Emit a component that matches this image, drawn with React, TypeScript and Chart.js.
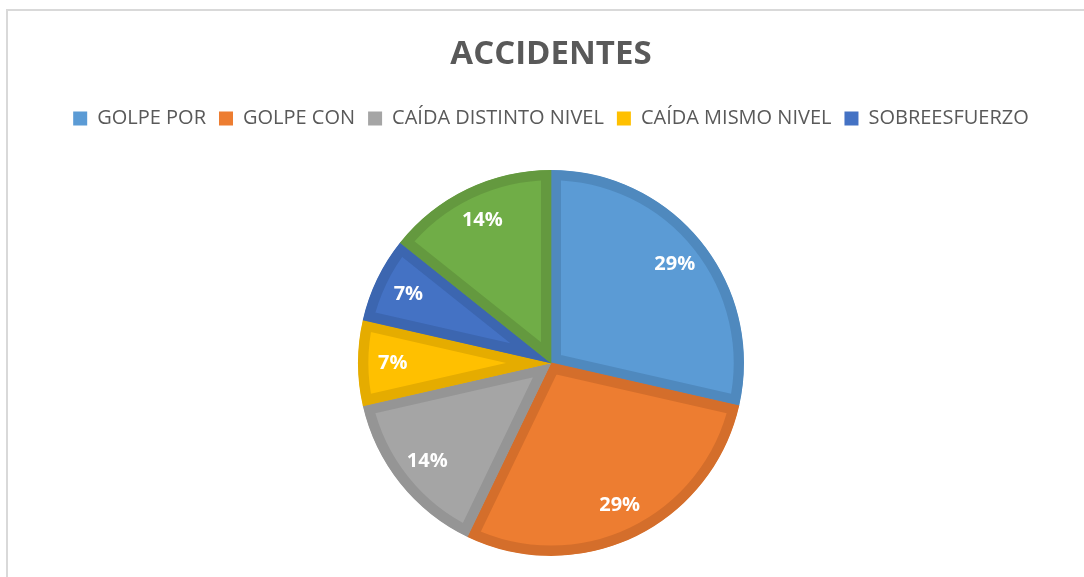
import React, { useEffect, useRef } from "react";
import { Chart, registerables } from "chart.js";

Chart.register(...registerables);

const categories = [
  "GOLPE POR",
  "GOLPE CON",
  "CAÍDA DISTINTO NIVEL",
  "CAÍDA MISMO NIVEL",
  "SOBREESFUERZO",
  "OTROS",
];
const accidentCounts = [4, 4, 2, 1, 1, 2];
const legendCount = 5;
const fillColors = ["#5B9BD5", "#ED7D31", "#A5A5A5", "#FFC000", "#4472C4", "#70AD47"];
const borderColors = ["#4F89BE", "#D46E2B", "#959595", "#E5AC00", "#3C66B0", "#64993F"];

const frameAndLabels = {
  id: "frameAndLabels",
  beforeDraw(chart: any) {
    const ctx = chart.ctx;
    ctx.save();
    ctx.fillStyle = "#ffffff";
    ctx.fillRect(0, 0, chart.width, chart.height);
    ctx.strokeStyle = "#d9d9d9";
    ctx.lineWidth = 2;
    ctx.beginPath();
    ctx.moveTo(7, chart.height + 5);
    ctx.lineTo(7, 10);
    ctx.lineTo(chart.width + 5, 10);
    ctx.stroke();
    ctx.restore();
  },
  afterDatasetsDraw(chart: any) {
    const ctx = chart.ctx;
    const meta = chart.getDatasetMeta(0);
    const data = chart.data.datasets[0].data as number[];
    const total = data.reduce((a, b) => a + b, 0);
    ctx.save();
    ctx.fillStyle = "#ffffff";
    ctx.font = "bold 20px 'Open Sans'";
    ctx.textAlign = "center";
    ctx.textBaseline = "middle";
    meta.data.forEach((arc: any, i: number) => {
      const { x, y, startAngle, endAngle, outerRadius } = arc.getProps(
        ["x", "y", "startAngle", "endAngle", "outerRadius"],
        true
      );
      const mid = (startAngle + endAngle) / 2;
      const r = outerRadius * 0.82;
      const pct = Math.round((data[i] / total) * 100) + "%";
      ctx.fillText(pct, x + Math.cos(mid) * r, y + Math.sin(mid) * r);
    });
    ctx.restore();
  },
};

export default function App() {
  const ref = useRef<HTMLCanvasElement>(null);
  useEffect(() => {
    if (!ref.current) return;
    const defaultLabels = (Chart as any).overrides.pie.plugins.legend.labels.generateLabels;
    const chart = new Chart(ref.current, {
      type: "pie",
      data: {
        labels: categories,
        datasets: [
          {
            data: accidentCounts,
            backgroundColor: fillColors,
            borderColor: borderColors,
            borderWidth: 10,
            borderAlign: "inner",
            hoverBorderWidth: 10,
          },
        ],
      },
      options: {
        responsive: false,
        animation: false,
        events: [],
        radius: 193,
        layout: { padding: { left: 18, right: 0, top: 0, bottom: 0 } },
        plugins: {
          title: {
            display: true,
            text: "ACCIDENTES",
            color: "#595959",
            font: { family: "'Open Sans'", size: 33, weight: "bold" },
            padding: { top: 35, bottom: 21 },
          },
          subtitle: {
            display: true,
            text: "",
            weight: 500,
            position: "top",
            font: { size: 1 },
            padding: { top: 9, bottom: 0 },
          },
          legend: {
            position: "top",
            labels: {
              color: "#595959",
              font: { family: "'Open Sans'", size: 20 },
              boxWidth: 14,
              boxHeight: 14,
              padding: 13,
              generateLabels: (chart: any) =>
                defaultLabels(chart)
                  .filter((item: any) => item.index < legendCount)
                  .map((item: any) => ({ ...item, lineWidth: 0, strokeStyle: "rgba(0,0,0,0)" })),
            },
          },
          tooltip: { enabled: false },
        },
      } as any,
      plugins: [frameAndLabels],
    });
    return () => chart.destroy();
  }, []);
  return (
    <div style={{ position: "absolute", left: 0, top: 0, width: 1084, height: 577 }}>
      <canvas ref={ref} width={1084} height={577} />
    </div>
  );
}
